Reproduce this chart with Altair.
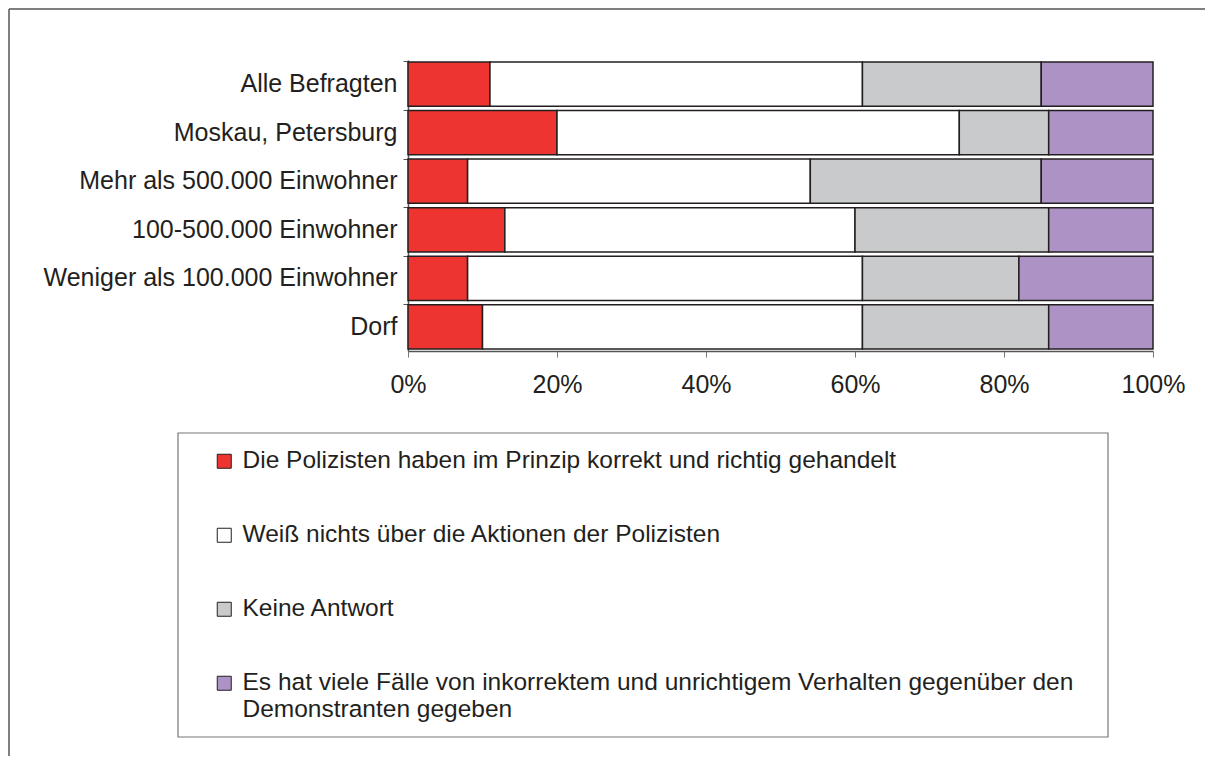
import altair as alt
import pandas as pd

categories = [
    "Alle Befragten",
    "Moskau, Petersburg",
    "Mehr als 500.000 Einwohner",
    "100-500.000 Einwohner",
    "Weniger als 100.000 Einwohner",
    "Dorf",
]
series = [
    "Die Polizisten haben im Prinzip korrekt und richtig gehandelt",
    "Weiß nichts über die Aktionen der Polizisten",
    "Keine Antwort",
    "Es hat viele Fälle von inkorrektem und unrichtigem Verhalten gegenüber den Demonstranten gegeben",
]
korrekt = [11, 20, 8, 13, 8, 10]
weiss_nicht = [50, 54, 46, 47, 53, 51]
keine_antwort = [24, 12, 31, 26, 21, 25]
viele_faelle = [15, 14, 15, 14, 18, 14]
colors = ["#EE3430", "#FFFFFF", "#C9CACC", "#AD92C6"]

rows = []
for si, vals in enumerate([korrekt, weiss_nicht, keine_antwort, viele_faelle]):
    for c, v in zip(categories, vals):
        rows.append({"Gruppe": c, "Antwort": series[si], "Wert": v, "idx": si})
df = pd.DataFrame(rows)

FONT = "Liberation Sans"
TXT = "#231F20"

label_expr = (
    "datum.label == '" + series[3] + "' ? "
    "['Es hat viele Fälle von inkorrektem und unrichtigem Verhalten gegenüber den', "
    "'Demonstranten gegeben'] : datum.label"
)

bars = alt.Chart(df).mark_bar(stroke="#231F20", strokeWidth=1.5).encode(
    y=alt.Y(
        "Gruppe:N",
        sort=categories,
        title=None,
        scale=alt.Scale(paddingInner=0.09, paddingOuter=0.04),
        axis=alt.Axis(
            labelFont=FONT, labelFontSize=25, labelColor=TXT, labelPadding=6,
            tickSize=5, tickColor="#555", domainColor="#555", domainWidth=1.5,
            bandPosition=0, labelLimit=400,
        ),
    ),
    x=alt.X(
        "Wert:Q",
        stack="normalize",
        title=None,
        scale=alt.Scale(domain=[0, 1], nice=False),
        axis=alt.Axis(
            format=".0%", values=[0, 0.2, 0.4, 0.6, 0.8, 1.0], grid=False,
            labelFont=FONT, labelFontSize=25, labelColor=TXT, labelPadding=15,
            labelFlush=False,
            tickSize=6, tickColor="#777", domainColor="#555", domainWidth=1.5,
        ),
    ),
    color=alt.Color(
        "Antwort:N",
        sort=series,
        scale=alt.Scale(domain=series, range=colors),
        legend=alt.Legend(
            title=None, orient="none", legendX=-196, legendY=389,
            direction="vertical", columns=1,
            labelFont=FONT, labelFontSize=24.5, labelColor=TXT, labelLimit=1000,
            labelExpr=label_expr, labelOffset=6,
            symbolType="square", symbolSize=196, symbolStrokeColor="#231F20",
            symbolStrokeWidth=1, symbolOpacity=1,
            rowPadding=49, padding=0,
        ),
    ),
    order=alt.Order("idx:Q", sort="ascending"),
)

one = pd.DataFrame({"k": [0]})
legend_box = alt.Chart(one).mark_rect(
    fill="white", stroke="#777", strokeWidth=1.2
).encode(
    x=alt.value(-230), x2=alt.value(700), y=alt.value(373), y2=alt.value(677)
)
frame_left = alt.Chart(one).mark_rule(color="#555", strokeWidth=1.5).encode(
    x=alt.value(-399), y=alt.value(-51), y2=alt.value(700)
)
frame_top = alt.Chart(one).mark_rule(color="#555", strokeWidth=1.5).encode(
    x=alt.value(-399), x2=alt.value(800), y=alt.value(-51)
)

chart = alt.layer(legend_box, bars, frame_left, frame_top).properties(
    width=745,
    height=291,
    autosize=alt.AutoSizeParams(type="none"),
    padding={"left": 400, "top": 52, "right": 52, "bottom": 405},
    background="white",
).configure_view(stroke=None)

chart.save("out.html", embed_options={"renderer": "svg", "actions": False})
